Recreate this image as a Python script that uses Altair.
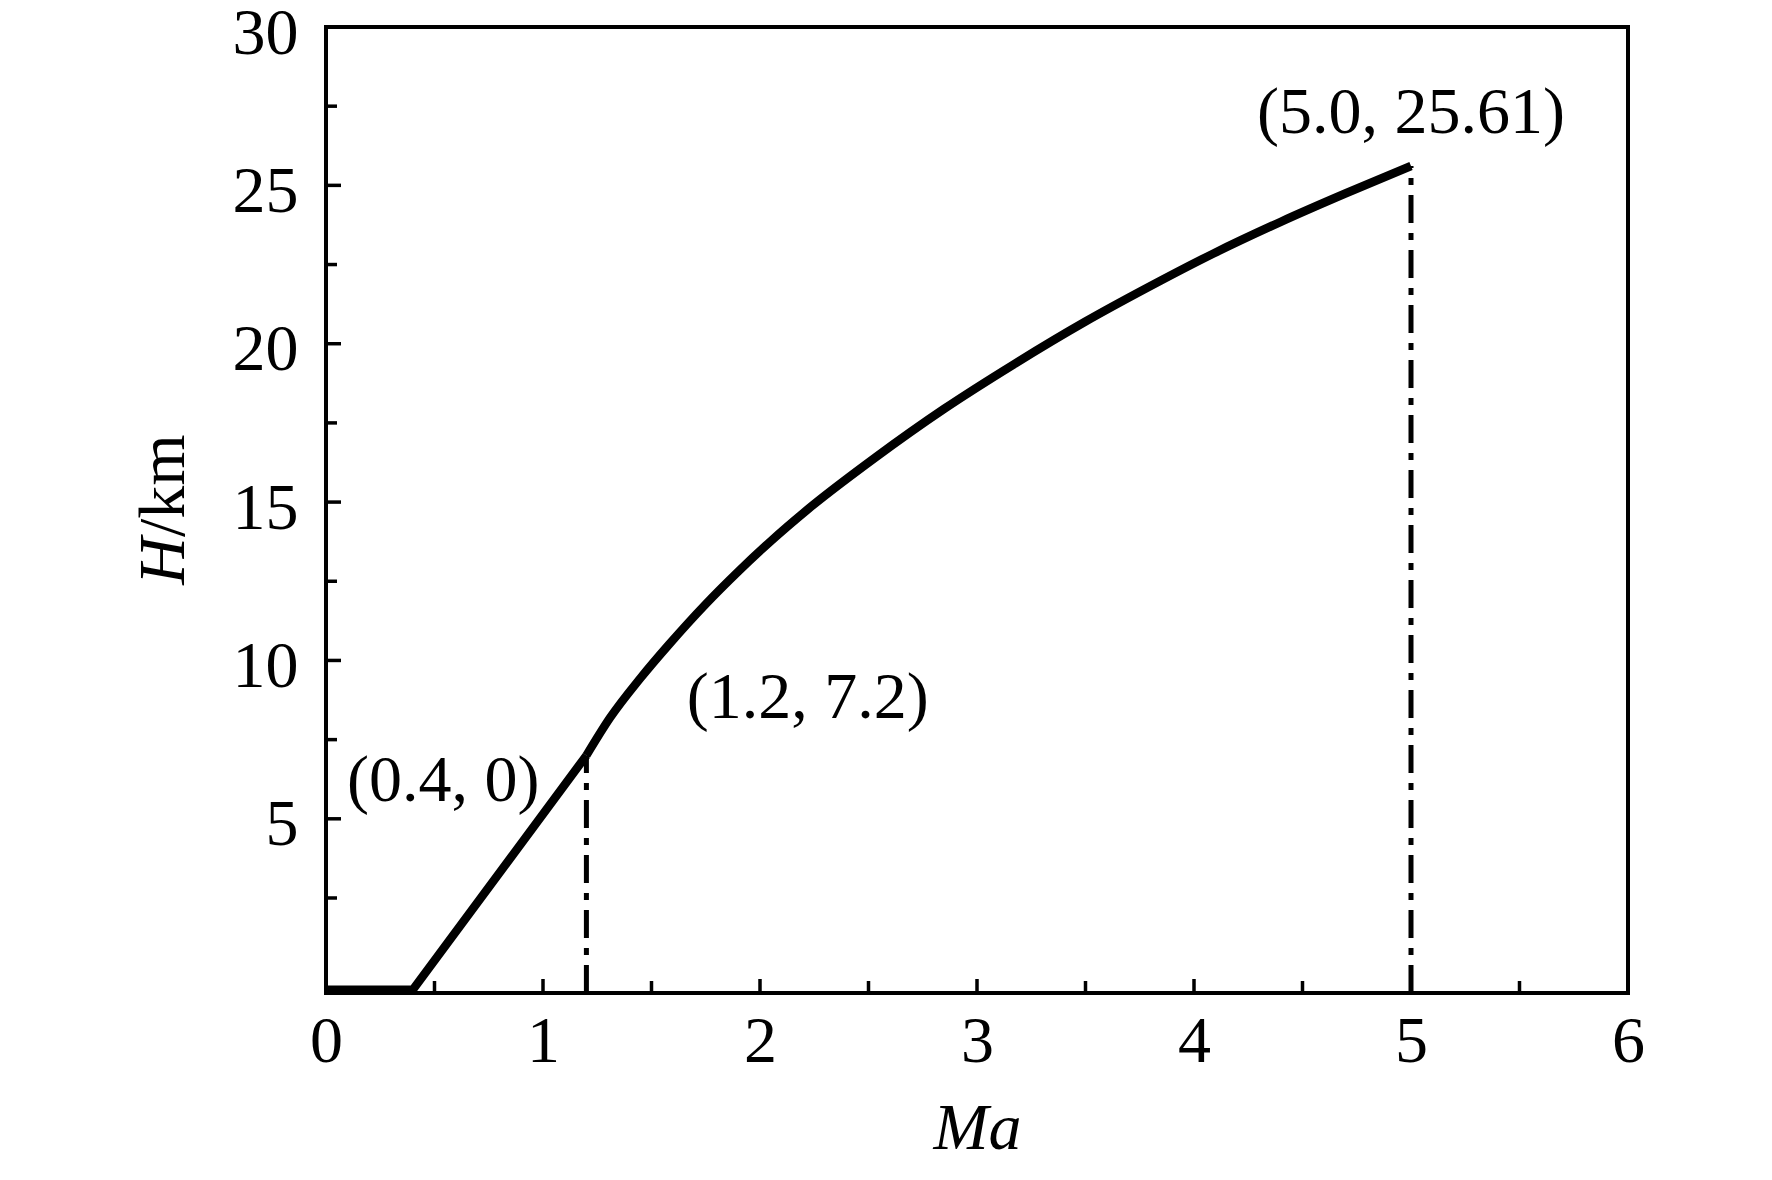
import altair as alt
import pandas as pd

# ---- data ----
lin_ma = [0.0, 0.4, 1.2]
lin_h = [-0.4, -0.4, 7.0]

curve_ma = [1.2, 1.31, 1.45, 1.58, 1.75, 1.9, 2.05, 2.22, 2.53, 2.85, 3.17, 3.5, 3.78, 4.09, 4.4, 4.7, 5.0]
curve_h = [7.0, 8.2, 9.45, 10.5, 11.78, 12.81, 13.77, 14.77, 16.4, 17.95, 19.35, 20.7, 21.75, 22.85, 23.85, 24.75, 25.61]

guide_ma = [1.2, 5.0]
guide_h0 = [-0.5, -0.5]
guide_h1 = [7.0, 25.61]

note_text = ["(0.4, 0)", "(1.2, 7.2)", "(5.0, 25.61)"]
note_ma = [0.54, 2.22, 5.0]
note_h = [6.2, 8.8, 27.3]

x_major = [1, 2, 3, 4, 5]
x_minor = [0.5, 1.5, 2.5, 3.5, 4.5, 5.5]
y_major = [5, 10, 15, 20, 25]
y_minor = [2.5, 7.5, 12.5, 17.5, 22.5, 27.5]
x_labels = [0, 1, 2, 3, 4, 5, 6]
y_labels = [5, 10, 15, 20, 25, 30]

W, H = 1302, 966
FONT = "Liberation Serif"
FS = 66

xs = alt.Scale(domain=[0, 6], nice=False, zero=False)
ys = alt.Scale(domain=[-0.5, 30], nice=False, zero=False)

xaxis = alt.Axis(values=x_labels, format="d", ticks=False, domain=False, grid=False,
                 labelFont=FONT, labelFontSize=FS, labelColor="black",
                 labelPadding=16, labelFlush=False, labelOverlap=False,
                 title="Ma", titleFont=FONT, titleFontSize=FS, titleFontStyle="italic",
                 titleFontWeight="normal", titleColor="black", titlePadding=22)
yaxis = alt.Axis(values=y_labels, format="d", ticks=False, domain=False, grid=False,
                 labelFont=FONT, labelFontSize=FS, labelColor="black", labelOffset=6,
                 labelPadding=28, labelFlush=False, labelOverlap=False, title=None)

lin_df = pd.DataFrame({"Ma": lin_ma, "H": lin_h})
curve_df = pd.DataFrame({"Ma": curve_ma, "H": curve_h})
guide_df = pd.DataFrame({"Ma": guide_ma, "H0": guide_h0, "H1": guide_h1})
note_df = pd.DataFrame({"t": note_text, "Ma": note_ma, "H": note_h})

base_x = alt.X("Ma:Q", scale=xs, axis=xaxis)
base_y = alt.Y("H:Q", scale=ys, axis=yaxis)

lin = alt.Chart(lin_df).mark_line(color="black", strokeWidth=8.5, strokeJoin="miter").encode(
    x=base_x, y=base_y, order="Ma:Q")
curve = alt.Chart(curve_df).mark_line(color="black", strokeWidth=8.5, interpolate="monotone").encode(
    x=alt.X("Ma:Q", scale=xs), y=alt.Y("H:Q", scale=ys), order="Ma:Q")

guides = alt.Chart(guide_df).mark_rule(color="black", strokeWidth=5,
                                       strokeDash=[28, 10, 7, 10]).encode(
    x=alt.X("Ma:Q", scale=xs), y=alt.Y("H0:Q", scale=ys), y2="H1:Q")

notes = alt.Chart(note_df).mark_text(font=FONT, fontSize=FS, color="black",
                                     align="center", baseline="middle").encode(
    x=alt.X("Ma:Q", scale=xs), y=alt.Y("H:Q", scale=ys), text="t:N")

ymaj = alt.Chart(pd.DataFrame({"v": y_major})).mark_rule(color="black", strokeWidth=3.5).encode(
    y=alt.Y("v:Q", scale=ys), x=alt.value(0), x2=alt.value(15))
ymin = alt.Chart(pd.DataFrame({"v": y_minor})).mark_rule(color="black", strokeWidth=3.5).encode(
    y=alt.Y("v:Q", scale=ys), x=alt.value(0), x2=alt.value(11))
xmaj = alt.Chart(pd.DataFrame({"v": x_major})).mark_rule(color="black", strokeWidth=3.5).encode(
    x=alt.X("v:Q", scale=xs), y=alt.value(H), y2=alt.value(H - 14))
xmin = alt.Chart(pd.DataFrame({"v": x_minor})).mark_rule(color="black", strokeWidth=3.5).encode(
    x=alt.X("v:Q", scale=xs), y=alt.value(H), y2=alt.value(H - 12))

ytitle_h = alt.Chart(pd.DataFrame({"t": ["H"]})).mark_text(
    font=FONT, fontSize=FS, fontStyle="italic", color="black", angle=270,
    align="right", baseline="middle").encode(x=alt.value(-162), y=alt.value(510), text="t:N")
ytitle_km = alt.Chart(pd.DataFrame({"t": ["/km"]})).mark_text(
    font=FONT, fontSize=FS, color="black", angle=270,
    align="left", baseline="middle").encode(x=alt.value(-162), y=alt.value(510), text="t:N")

chart = alt.layer(lin, curve, guides, notes, ymaj, ymin, xmaj, xmin, ytitle_h, ytitle_km).properties(
    width=W, height=H,
    background="white",
    autosize=alt.AutoSizeParams(type="none"),
    padding={"left": 318, "top": 19, "right": 136, "bottom": 179},
).configure_view(stroke="black", strokeWidth=4)

chart.save("out.html", embed_options={"renderer": "svg", "actions": False})
